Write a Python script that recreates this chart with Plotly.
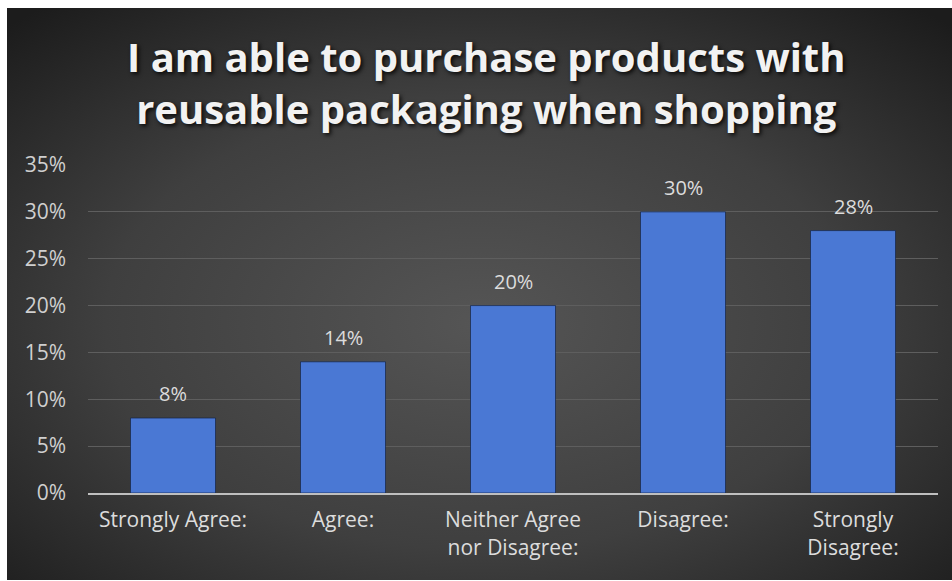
import base64
import plotly.graph_objects as go

# Survey responses
categories = ["Strongly Agree:", "Agree:", "Neither Agree<br>nor Disagree:", "Disagree:", "Strongly<br>Disagree:"]
values = [8, 14, 20, 30, 28]
y_ticks = [0, 5, 10, 15, 20, 25, 30, 35]
title_text = "I am able to purchase products with<br>reusable packaging when shopping"

W, H = 952, 581
L, R, T, B = 88, 14, 165, 88
plot_w, plot_h = W - L - R, H - T - B

# Dark radial-gradient card behind the chart
svg = (
    '<svg xmlns="http://www.w3.org/2000/svg" width="945" height="572" '
    'viewBox="0 0 945 572" preserveAspectRatio="none">'
    '<defs><radialGradient id="g" cx="50%" cy="55%" r="72%">'
    '<stop offset="0" stop-color="#555555"/>'
    '<stop offset="0.55" stop-color="#3f3f3f"/>'
    '<stop offset="1" stop-color="#1c1c1c"/>'
    '</radialGradient></defs>'
    '<rect width="945" height="572" fill="url(#g)"/></svg>'
)
bg_src = "data:image/svg+xml;base64," + base64.b64encode(svg.encode()).decode()

card_x0, card_x1, card_y0, card_y1 = 7, 952, 8, 580
def px_to_paper_x(px):
    return (px - L) / plot_w
def px_to_paper_y(py):
    return (H - B - py) / plot_h

label_color = "#dcdcdc"
font_family = "'Open Sans', sans-serif"

fig = go.Figure()
fig.add_trace(go.Bar(
    x=categories,
    y=values,
    marker=dict(color="#4a78d4", line=dict(color="rgba(20,35,70,0.7)", width=1)),
    hoverinfo="skip",
))

for c, v in zip(categories, values):
    fig.add_annotation(
        x=c, y=v, text=f"{v}%", showarrow=False,
        yanchor="bottom", yshift=9,
        font=dict(family=font_family, size=20, color=label_color),
    )

fig.add_annotation(
    xref="paper", yref="paper",
    x=px_to_paper_x(486), y=px_to_paper_y(27),
    xanchor="center", yanchor="top",
    text=title_text, showarrow=False,
    font=dict(family="'Open Sans', sans-serif", size=40, color="#f2f2f2", weight=700,
              shadow="2px 2px 4px rgba(0,0,0,0.85)"),
)

fig.update_layout(
    width=W, height=H,
    margin=dict(l=L, r=R, t=T, b=B, pad=0),
    paper_bgcolor="white",
    plot_bgcolor="rgba(0,0,0,0)",
    showlegend=False,
    bargap=0.5,
    images=[dict(
        source=bg_src, xref="paper", yref="paper",
        x=px_to_paper_x(card_x0), y=px_to_paper_y(card_y0),
        sizex=(card_x1 - card_x0) / plot_w, sizey=(card_y1 - card_y0) / plot_h,
        xanchor="left", yanchor="top", sizing="stretch", layer="below",
    )],
)

fig.update_xaxes(
    showgrid=False, showline=True, linecolor="#bfbfbf", linewidth=2,
    ticks="", tickfont=dict(family=font_family, size=21, color=label_color),
    ticklabelstandoff=7, fixedrange=True,
)
fig.update_yaxes(
    range=[0, 35], tickvals=y_ticks, ticktext=[f"{t}%" for t in y_ticks],
    showgrid=True, gridcolor="#5e5e5e", gridwidth=1, zeroline=False,
    showline=False, ticks="",
    tickfont=dict(family=font_family, size=21, color="#cfcfcf"),
    ticklabelstandoff=21, fixedrange=True,
)

fig.write_html("out.html")
